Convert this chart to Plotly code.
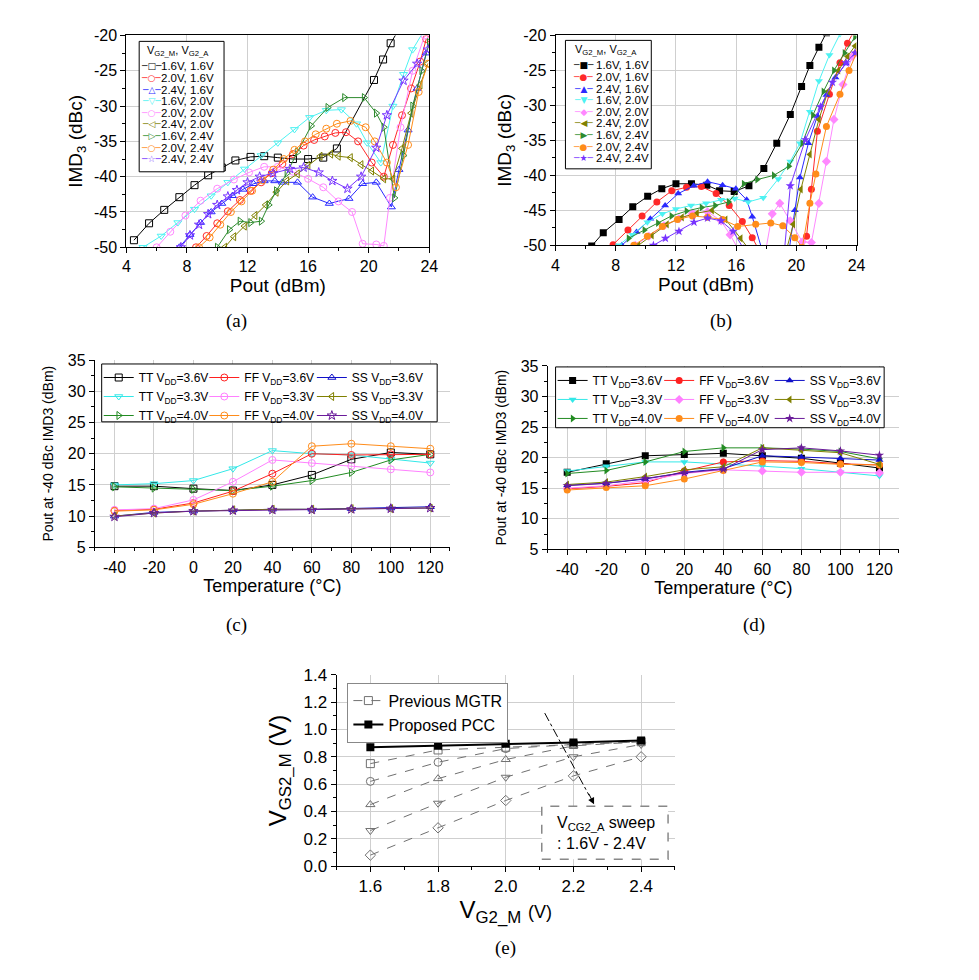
import plotly.graph_objects as go

W, H = 979, 980
FONT = "Liberation Sans"

# ---------------- panel (a)/(b): IMD3 vs Pout ----------------
bias_labels = ["1.6V, 1.6V", "2.0V, 1.6V", "2.4V, 1.6V", "1.6V, 2.0V", "2.0V, 2.0V",
               "2.4V, 2.0V", "1.6V, 2.4V", "2.0V, 2.4V", "2.4V, 2.4V"]
bias_colors = ["#000000", "#FF2A2A", "#2A2AFF", "#4DF2F2", "#FF88FF",
               "#808000", "#2E8B2E", "#FF8C1A", "#7733FF"]
a_symbols = ["square-open", "circle-open", "triangle-up-open", "triangle-down-open", "circle-open",
             "triangle-left-open", "triangle-right-open", "circle-open", "star-open"]
b_symbols = ["square", "circle", "triangle-up", "triangle-down", "diamond",
             "triangle-left", "triangle-right", "circle", "star"]
a_glyphs = ["□", "○", "△", "▽", "○", "◁", "▷", "○", "☆"]
b_glyphs = ["■", "●", "▲", "▼", "◆", "◀", "▶", "●", "★"]

# (a)
a_pout_1 = [4.5, 5.5, 6.5, 7.5, 8.5, 9.4, 10.3, 11.2, 12.2, 13.1, 14.0, 15.0, 16.0, 17.0, 17.9, 20.35, 20.95, 21.45, 21.95]
a_imd_1 = [-49.0, -46.6, -44.7, -42.9, -41.2, -39.8, -38.7, -37.7, -37.2, -37.1, -37.3, -37.5, -37.5, -37.3, -36.0, -26.3, -23.4, -21.1, -19.3]
a_pout_2 = [8.6, 9.3, 10.0, 10.7, 11.5, 12.2, 12.9, 13.6, 14.3, 15.0, 15.7, 16.4, 17.1, 17.8, 18.5, 19.3, 20.2, 21.0, 21.6, 22.2, 22.8, 23.4, 23.8]
a_imd_2 = [-50.0, -48.4, -46.6, -44.9, -43.3, -42.0, -40.8, -39.5, -38.2, -36.8, -35.6, -34.8, -34.3, -33.8, -33.7, -35.0, -38.0, -40.0, -35.5, -31.3, -27.5, -23.7, -20.5]
a_pout_3 = [7.5, 8.2, 8.9, 9.6, 10.3, 11.0, 11.7, 12.4, 13.1, 13.8, 14.3, 15.3, 16.3, 17.4, 18.7, 19.6, 20.5, 21.5, 22.0, 22.6, 23.2, 23.8]
a_imd_3 = [-50.0, -48.2, -46.5, -45.0, -43.8, -42.7, -41.8, -41.0, -40.6, -40.6, -40.8, -40.8, -42.9, -43.8, -43.1, -41.0, -40.8, -44.3, -39.0, -33.4, -27.5, -22.5]
a_pout_4 = [5.1, 6.3, 7.4, 8.5, 9.6, 10.7, 11.8, 12.9, 14.0, 15.1, 16.1, 17.2, 18.2, 19.2, 19.9, 20.8, 21.6, 22.3, 22.9, 23.6]
a_imd_4 = [-50.0, -48.4, -46.5, -44.6, -42.7, -40.8, -38.9, -37.0, -35.2, -33.3, -31.6, -30.6, -30.5, -32.5, -35.2, -38.0, -30.0, -25.5, -22.0, -19.5]
a_pout_5 = [6.0, 6.9, 7.9, 8.9, 10.0, 11.1, 12.1, 13.1, 14.0, 15.0, 16.0, 17.0, 18.0, 18.9, 19.6, 20.5, 21.0, 21.4, 22.1, 22.9, 23.7]
a_imd_5 = [-50.0, -47.8, -45.5, -43.4, -41.7, -40.4, -39.4, -38.6, -38.6, -39.3, -40.3, -41.5, -43.5, -45.0, -49.5, -49.6, -49.8, -43.0, -33.0, -25.0, -20.0]
a_pout_6 = [10.5, 11.1, 11.8, 12.5, 13.2, 13.9, 14.6, 15.3, 16.0, 16.8, 17.5, 18.0, 18.8, 19.5, 20.2, 21.0, 21.6, 22.2, 22.8, 23.4, 23.9]
a_imd_6 = [-50.0, -48.5, -47.0, -45.5, -44.0, -42.2, -40.6, -39.6, -38.4, -37.1, -36.8, -37.1, -37.3, -38.3, -39.2, -40.3, -40.3, -36.0, -31.0, -27.0, -24.0]
a_pout_7 = [10.0, 10.8, 11.5, 12.2, 12.9, 13.4, 13.9, 14.6, 15.3, 16.2, 17.3, 18.4, 19.7, 20.5, 21.0, 21.7, 22.3, 22.9, 23.5, 24.0]
a_imd_7 = [-50.0, -47.5, -46.3, -46.5, -46.3, -44.0, -42.0, -39.5, -36.5, -32.8, -30.2, -28.8, -28.8, -31.0, -33.0, -43.0, -37.0, -30.0, -25.0, -21.0]
a_pout_8 = [8.8, 9.5, 10.2, 10.9, 11.6, 12.3, 13.0, 13.7, 14.4, 15.1, 15.8, 16.5, 17.2, 17.9, 18.8, 19.8, 20.4, 21.2, 21.8, 22.6, 23.3, 23.9]
a_imd_8 = [-50.0, -48.6, -46.8, -45.0, -43.5, -42.0, -40.5, -39.0, -37.5, -36.2, -35.0, -34.0, -33.2, -32.5, -32.1, -33.0, -35.0, -38.0, -41.5, -35.5, -28.0, -24.0]
a_pout_9 = [7.6, 8.2, 8.8, 9.4, 10.0, 10.7, 11.3, 12.0, 12.8, 13.7, 14.8, 15.7, 16.7, 17.6, 18.6, 19.5, 20.5, 21.2, 22.3, 23.2, 23.9]
a_imd_9 = [-50.0, -48.3, -46.8, -45.3, -44.0, -42.8, -41.9, -40.8, -40.0, -39.5, -38.9, -38.7, -39.4, -40.6, -41.7, -40.0, -35.9, -31.3, -26.4, -24.0, -22.0]

# (b)
b_pout_1 = [6.4, 7.17, 8.22, 9.13, 10.12, 11.06, 12.0, 13.03, 14.05, 14.9, 15.87, 16.85, 17.84, 18.7, 19.6, 20.35, 20.9, 21.5, 22.0]
b_imd_1 = [-50.1, -48.2, -46.3, -44.5, -43.0, -41.9, -41.2, -41.2, -41.4, -42.2, -42.3, -41.5, -39.0, -35.4, -31.3, -27.3, -24.3, -21.7, -19.6]
b_pout_2 = [7.82, 8.81, 9.75, 10.73, 11.72, 12.7, 13.69, 14.67, 15.54, 16.41, 17.07, 17.6, 19.8, 20.68, 21.0, 21.4, 22.2, 22.9, 23.4, 23.8]
b_imd_2 = [-49.9, -47.8, -45.8, -43.8, -42.2, -41.7, -41.6, -42.6, -44.3, -46.6, -48.9, -51.0, -51.0, -48.7, -42.0, -33.7, -28.4, -23.9, -21.1, -19.5]
b_pout_3 = [8.4, 9.38, 10.3, 11.28, 12.15, 13.18, 14.1, 15.1, 15.98, 16.7, 17.07, 17.7, 19.5, 19.9, 20.24, 20.8, 21.4, 22.0, 22.6, 23.3, 23.9]
b_imd_3 = [-50.0, -48.1, -46.2, -44.3, -42.6, -41.5, -40.9, -41.4, -41.9, -43.5, -45.9, -50.5, -51.0, -45.0, -40.3, -35.4, -31.5, -28.5, -26.0, -24.0, -22.5]
b_pout_4 = [8.2, 9.1, 10.1, 11.1, 12.0, 13.0, 14.0, 15.0, 15.9, 16.8, 17.8, 18.8, 19.6, 20.24, 20.9, 21.5, 22.2, 22.9]
b_imd_4 = [-50.0, -48.5, -46.7, -45.5, -44.8, -44.3, -44.0, -43.5, -43.3, -43.8, -43.2, -40.5, -38.0, -35.4, -30.9, -26.5, -22.8, -19.8]
b_pout_5 = [9.3, 10.2, 11.2, 12.2, 13.1, 14.1, 15.0, 15.6, 16.2, 17.9, 18.4, 18.9, 19.6, 20.4, 21.0, 21.5, 22.0, 22.5, 23.1, 23.7]
b_imd_5 = [-50.0, -48.7, -47.2, -46.2, -45.4, -45.2, -46.5, -48.5, -50.8, -51.5, -45.5, -44.0, -46.5, -49.5, -49.6, -44.0, -38.0, -32.0, -27.0, -23.0]
b_pout_6 = [9.5, 10.4, 11.4, 12.4, 13.4, 14.4, 15.3, 16.3, 17.0, 19.3, 19.8, 20.3, 20.9, 21.5, 22.1, 22.8, 23.4, 23.9]
b_imd_6 = [-50.0, -48.6, -47.0, -46.0, -45.4, -45.0, -46.3, -49.0, -51.0, -51.0, -47.0, -42.0, -37.0, -32.0, -28.0, -25.0, -23.0, -21.5]
b_pout_7 = [8.85, 9.9, 10.8, 11.7, 12.7, 13.7, 14.6, 15.5, 16.5, 17.4, 18.5, 19.5, 20.4, 21.1, 21.8, 22.5, 23.2, 23.9]
b_imd_7 = [-49.0, -47.8, -46.8, -45.8, -45.1, -44.6, -44.3, -43.8, -41.2, -40.6, -40.0, -38.7, -35.4, -31.4, -28.0, -25.0, -22.5, -20.2]
b_pout_8 = [9.2, 10.1, 11.1, 12.1, 13.1, 14.1, 15.1, 16.1, 17.3, 18.3, 19.1, 19.9, 20.4, 20.9, 21.3, 22.0, 22.9, 23.5, 24.0]
b_imd_8 = [-50.0, -48.7, -47.3, -46.3, -45.8, -46.0, -46.3, -47.3, -47.0, -46.8, -47.2, -48.9, -50.3, -44.0, -39.8, -33.0, -28.4, -25.0, -22.5]
b_pout_9 = [10.5, 11.3, 12.2, 13.2, 14.1, 15.0, 15.8, 16.5, 19.2, 19.6, 20.6, 21.6, 22.4, 23.3, 23.9]
b_imd_9 = [-50.0, -49.0, -48.0, -46.7, -46.1, -46.5, -48.0, -50.5, -51.0, -41.5, -34.9, -30.2, -26.7, -23.9, -22.5]

imd_ticks = [-50, -45, -40, -35, -30, -25, -20]
imd_ticklabels = ["-50", "-45", "-40", "-35", "-30", "-25", "-20"]
pout_ticks = [4, 8, 12, 16, 20, 24]

# ---------------- panel (c)/(d): Pout at -40 dBc IMD3 vs temperature ----------------
temps = [-40, -20, 0, 20, 40, 60, 80, 100, 120]
temp_ticklabels = ["-40", "-20", "0", "20", "40", "60", "80", "100", "120"]
corner_labels = ["TT V<sub>DD</sub>=3.6V", "TT V<sub>DD</sub>=3.3V", "TT V<sub>DD</sub>=4.0V",
                 "FF V<sub>DD</sub>=3.6V", "FF V<sub>DD</sub>=3.3V", "FF V<sub>DD</sub>=4.0V",
                 "SS V<sub>DD</sub>=3.6V", "SS V<sub>DD</sub>=3.3V", "SS V<sub>DD</sub>=4.0V"]
corner_colors = ["#000000", "#33E8E8", "#228B22", "#FF2020", "#FF80FF", "#FF8C1A",
                 "#1010C8", "#808000", "#6A1B9A"]
c_symbols = ["square-open", "triangle-down-open", "triangle-right-open", "circle-open", "circle-open",
             "circle-open", "triangle-up-open", "triangle-left-open", "star-open"]
d_symbols = ["square", "triangle-down", "triangle-right", "circle", "diamond",
             "circle", "triangle-up", "triangle-left", "star"]

c_tt36 = [14.8, 14.8, 14.4, 14.1, 15.0, 16.6, 19.1, 20.2, 19.9]
c_tt33 = [15.0, 15.2, 15.7, 17.6, 20.5, 20.0, 19.8, 19.1, 18.5]
c_tt40 = [14.7, 14.5, 14.3, 14.1, 14.8, 15.7, 17.0, 19.0, 19.9]
c_ff36 = [10.9, 11.1, 12.1, 14.0, 16.8, 20.0, 19.8, 19.9, 19.9]
c_ff33 = [11.0, 11.2, 12.6, 15.5, 19.0, 18.5, 18.0, 17.5, 17.0]
c_ff40 = [10.8, 11.0, 11.9, 13.6, 15.5, 21.2, 21.6, 21.2, 20.8]
c_ss36 = [10.0, 10.6, 10.8, 11.0, 11.1, 11.1, 11.2, 11.3, 11.5]
c_ss33 = [10.0, 10.5, 10.8, 11.0, 11.1, 11.1, 11.2, 11.2, 11.3]
c_ss40 = [9.9, 10.5, 10.8, 10.9, 11.0, 11.0, 11.1, 11.2, 11.3]

d_tt36 = [17.6, 19.0, 20.3, 20.5, 20.7, 20.3, 19.9, 19.1, 18.3]
d_tt33 = [17.8, 18.6, 19.3, 19.3, 19.0, 18.6, 18.2, 17.6, 17.0]
d_tt40 = [17.4, 17.9, 19.3, 21.0, 21.6, 21.6, 21.4, 21.0, 19.8]
d_ff36 = [14.9, 15.3, 15.9, 17.8, 19.3, 19.5, 19.4, 19.0, 18.8]
d_ff33 = [15.0, 15.4, 16.2, 17.4, 18.0, 17.8, 17.6, 17.6, 17.5]
d_ff40 = [14.7, 15.1, 15.4, 16.5, 17.9, 19.3, 19.2, 18.9, 18.8]
d_ss36 = [15.5, 15.8, 16.5, 17.6, 18.2, 20.3, 20.1, 19.9, 19.6]
d_ss33 = [15.6, 16.0, 16.9, 18.0, 18.5, 21.6, 21.2, 20.8, 18.9]
d_ss40 = [15.4, 15.8, 16.6, 17.5, 18.1, 21.3, 21.6, 21.1, 20.4]

temp_axis_ticks = [5, 10, 15, 20, 25, 30, 35]

# ---------------- panel (e): VGS2_M vs VG2_M ----------------
vg2m = [1.6, 1.8, 2.0, 2.2, 2.4]
pcc_vgs = [0.87, 0.88, 0.895, 0.905, 0.92]
mgtr_a16 = [0.75, 0.85, 0.87, 0.89, 0.91]
mgtr_a18 = [0.62, 0.76, 0.86, 0.89, 0.91]
mgtr_a20 = [0.45, 0.64, 0.78, 0.88, 0.91]
mgtr_a22 = [0.26, 0.46, 0.65, 0.80, 0.89]
mgtr_a24 = [0.08, 0.28, 0.48, 0.66, 0.80]
mgtr_symbols = ["square-open", "circle-open", "triangle-up-open", "triangle-down-open", "diamond-open"]

# ---------------- helpers (layout only) ----------------
def fx(px):
    return px / W

def fy(py):
    return 1 - py / H

a_series = [(a_pout_1, a_imd_1), (a_pout_2, a_imd_2), (a_pout_3, a_imd_3), (a_pout_4, a_imd_4),
            (a_pout_5, a_imd_5), (a_pout_6, a_imd_6), (a_pout_7, a_imd_7), (a_pout_8, a_imd_8),
            (a_pout_9, a_imd_9)]
b_series = [(b_pout_1, b_imd_1), (b_pout_2, b_imd_2), (b_pout_3, b_imd_3), (b_pout_4, b_imd_4),
            (b_pout_5, b_imd_5), (b_pout_6, b_imd_6), (b_pout_7, b_imd_7), (b_pout_8, b_imd_8),
            (b_pout_9, b_imd_9)]
c_series = [c_tt36, c_tt33, c_tt40, c_ff36, c_ff33, c_ff40, c_ss36, c_ss33, c_ss40]
d_series = [d_tt36, d_tt33, d_tt40, d_ff36, d_ff33, d_ff40, d_ss36, d_ss33, d_ss40]
mgtr_series = [mgtr_a16, mgtr_a18, mgtr_a20, mgtr_a22, mgtr_a24]

fig = go.Figure()

for i, (xs, ys) in enumerate(a_series):
    col = bias_colors[i]
    fig.add_trace(go.Scatter(
        x=xs, y=ys, xaxis="x", yaxis="y", mode="lines+markers", name=bias_labels[i],
        line=dict(color=col, width=1), showlegend=False,
        marker=dict(symbol=a_symbols[i], size=7, color=col, line=dict(color=col, width=1))))

for i, (xs, ys) in enumerate(b_series):
    col = bias_colors[i]
    fig.add_trace(go.Scatter(
        x=xs, y=ys, xaxis="x2", yaxis="y2", mode="lines+markers", name=bias_labels[i],
        line=dict(color=col, width=1), showlegend=False,
        marker=dict(symbol=b_symbols[i], size=7, color=col, line=dict(color=col, width=0))))

c_legends = ["legend3", "legend3", "legend3", "legend4", "legend4", "legend4", "legend5", "legend5", "legend5"]
d_legends = ["legend6", "legend6", "legend6", "legend7", "legend7", "legend7", "legend8", "legend8", "legend8"]

for i, ys in enumerate(c_series):
    col = corner_colors[i]
    fig.add_trace(go.Scatter(
        x=temps, y=ys, xaxis="x3", yaxis="y3", mode="lines+markers", name=corner_labels[i],
        line=dict(color=col, width=1),
        marker=dict(symbol=c_symbols[i], size=7, color=col, line=dict(color=col, width=1)),
        legend=c_legends[i]))

for i, ys in enumerate(d_series):
    col = corner_colors[i]
    fig.add_trace(go.Scatter(
        x=temps, y=ys, xaxis="x4", yaxis="y4", mode="lines+markers", name=corner_labels[i],
        line=dict(color=col, width=1),
        marker=dict(symbol=d_symbols[i], size=7, color=col, line=dict(color=col, width=0)),
        legend=d_legends[i]))

for i, ys in enumerate(mgtr_series):
    fig.add_trace(go.Scatter(
        x=vg2m, y=ys, xaxis="x5", yaxis="y5", mode="lines+markers", name="Previous MGTR",
        line=dict(color="#707070", width=1, dash="dash"),
        marker=dict(symbol=mgtr_symbols[i], size=8, color="#707070", line=dict(color="#707070", width=1)),
        showlegend=(i == 0), legendgroup="mgtr", legend="legend9"))

fig.add_trace(go.Scatter(
    x=vg2m, y=pcc_vgs, xaxis="x5", yaxis="y5", mode="lines+markers", name="Proposed PCC",
    line=dict(color="black", width=2),
    marker=dict(symbol="square", size=8, color="black"),
    legend="legend9"))


def axis(domain, anchor, rng, tickfont=16, mirror=False, **kw):
    d = dict(domain=domain, anchor=anchor, range=rng, showline=True, linecolor="black", linewidth=1,
             mirror=mirror, ticks="outside", ticklen=5, tickcolor="black", showgrid=True,
             gridcolor="#cfcfcf", gridwidth=1, zeroline=False,
             tickfont=dict(size=tickfont, color="black", family=FONT))
    d.update(kw)
    return d


minor_a_x = dict(ticks="outside", ticklen=3, tickcolor="black", showgrid=False, tickmode="linear", tick0=4, dtick=2)
minor_a_y = dict(ticks="outside", ticklen=3, tickcolor="black", showgrid=False, tickmode="linear", tick0=-50, dtick=2.5)
minor_c_x = dict(ticks="outside", ticklen=3, tickcolor="black", showgrid=False, tickmode="linear", tick0=-50, dtick=10)
minor_c_y = dict(ticks="outside", ticklen=3, tickcolor="black", showgrid=False, tickmode="linear", tick0=5, dtick=2.5)
minor_e_x = dict(ticks="outside", ticklen=3, tickcolor="black", showgrid=False, tickmode="linear", tick0=1.5, dtick=0.1)
minor_e_y = dict(ticks="outside", ticklen=3, tickcolor="black", showgrid=False, tickmode="linear", tick0=0, dtick=0.1)

title_font = dict(family=FONT, size=19, color="black")

layout = dict(
    width=W, height=H, margin=dict(l=0, r=0, t=0, b=0), autosize=False,
    paper_bgcolor="white", plot_bgcolor="white", font=dict(family=FONT, color="black"),
    showlegend=True,
    # (a)
    xaxis=axis([fx(124), fx(431)], "y", [4, 24], mirror=True, tickmode="array", tickvals=pout_ticks,
               minor=minor_a_x, title=dict(text="Pout (dBm)", font=title_font, standoff=2)),
    yaxis=axis([fy(243), fy(27)], "x", [-50, -20], mirror=True, tickmode="array", tickvals=imd_ticks,
               ticktext=imd_ticklabels, minor=minor_a_y,
               title=dict(text="IMD<sub>3</sub> (dBc)", font=title_font, standoff=6)),
    # (b)
    xaxis2=axis([fx(559), fx(864)], "y2", [4, 24], mirror=True, tickmode="array", tickvals=pout_ticks,
                minor=minor_a_x, title=dict(text="Pout (dBm)", font=title_font, standoff=2)),
    yaxis2=axis([fy(241), fy(27)], "x2", [-50, -20], mirror=True, tickmode="array", tickvals=imd_ticks,
                ticktext=imd_ticklabels, minor=minor_a_y,
                title=dict(text="IMD<sub>3</sub> (dBc)", font=title_font, standoff=6)),
    # (c)
    xaxis3=axis([fx(92), fx(452)], "y3", [-50, 130], tickmode="array", tickvals=temps, ticktext=temp_ticklabels,
                minor=minor_c_x, title=dict(text="Temperature (°C)", font=dict(family=FONT, size=18, color="black"), standoff=2)),
    yaxis3=axis([fy(549), fy(358)], "x3", [5, 35], tickmode="array", tickvals=temp_axis_ticks, minor=minor_c_y,
                title=dict(text="Pout at -40 dBc IMD3 (dBm)", font=dict(family=FONT, size=14, color="black"), standoff=10)),
    # (d)
    xaxis4=axis([fx(551), fx(907)], "y4", [-50, 130], tickmode="array", tickvals=temps, ticktext=temp_ticklabels,
                minor=minor_c_x, title=dict(text="Temperature (°C)", font=dict(family=FONT, size=18, color="black"), standoff=2)),
    yaxis4=axis([fy(551), fy(364)], "x4", [5, 35], tickmode="array", tickvals=temp_axis_ticks, minor=minor_c_y,
                title=dict(text="Pout at -40 dBc IMD3 (dBm)", font=dict(family=FONT, size=14, color="black"), standoff=10)),
    # (e)
    xaxis5=axis([fx(337), fx(680)], "y5", [1.5, 2.5], tickfont=17, tickmode="array", tickvals=vg2m,
                tickformat=".1f", minor=minor_e_x,
                title=dict(text="V<sub>G2_M</sub> <span style='font-size:18px'>(V)</span>",
                           font=dict(family=FONT, size=24, color="black"), standoff=2)),
    yaxis5=axis([fy(874), fy(679)], "x5", [0, 1.4], tickfont=17, dtick=0.2, tick0=0, tickformat=".1f",
                minor=minor_e_y,
                title=dict(text="V<sub>GS2_M</sub> (V)", font=dict(family=FONT, size=24, color="black"), standoff=10)),
)

legend_cd = dict(bgcolor="rgba(0,0,0,0)", borderwidth=0, xanchor="left", yanchor="top",
                 font=dict(family=FONT, size=12, color="black"), tracegroupgap=0)
layout["legend3"] = dict(legend_cd, x=fx(96), y=fy(361))
layout["legend4"] = dict(legend_cd, x=fx(203), y=fy(361))
layout["legend5"] = dict(legend_cd, x=fx(312), y=fy(361))
layout["legend6"] = dict(legend_cd, x=fx(556), y=fy(364))
layout["legend7"] = dict(legend_cd, x=fx(664), y=fy(364))
layout["legend8"] = dict(legend_cd, x=fx(776), y=fy(364))
layout["legend9"] = dict(bgcolor="white", bordercolor="#888888", borderwidth=1, xanchor="left", yanchor="top",
                         x=fx(348), y=fy(687), font=dict(family=FONT, size=16, color="black"), tracegroupgap=0)

shapes = [
    # compact key boxes for (a) and (b)
    dict(type="rect", xref="paper", yref="paper", x0=fx(137), x1=fx(223), y0=fy(166), y1=fy(33),
         line=dict(color="black", width=1), fillcolor="white", layer="above"),
    dict(type="rect", xref="paper", yref="paper", x0=fx(569), x1=fx(656), y0=fy(163), y1=fy(32),
         line=dict(color="black", width=1), fillcolor="white", layer="above"),
    # key boxes for (c) and (d)
    dict(type="rect", xref="paper", yref="paper", x0=fx(99), x1=fx(439), y0=fy(421), y1=fy(362),
         line=dict(color="black", width=1), fillcolor="white", layer="above"),
    dict(type="rect", xref="paper", yref="paper", x0=fx(559), x1=fx(892), y0=fy(427), y1=fy(365),
         line=dict(color="black", width=1), fillcolor="white", layer="above"),
    # sweep note in (e)
    dict(type="rect", xref="paper", yref="paper", x0=fx(545), x1=fx(673), y0=fy(867), y1=fy(813),
         line=dict(color="#888888", width=1.5, dash="dash"), fillcolor="white", layer="above"),
    dict(type="line", xref="paper", yref="paper", x0=fx(548), y0=fy(718), x1=fx(593), y1=fy(802),
         line=dict(color="black", width=1, dash="dashdot"), layer="above"),
]

caption_font = dict(family="Liberation Serif", size=19, color="black")
annotations = []
for txt, cx, cy in [("(a)", 236, 318), ("(b)", 727, 318), ("(c)", 236, 628), ("(d)", 760, 628), ("(e)", 508, 958)]:
    annotations.append(dict(text=txt, x=fx(cx), y=fy(cy), xref="paper", yref="paper", showarrow=False,
                            xanchor="center", yanchor="middle", font=caption_font))

annotations.append(dict(text="V<sub>CG2_A</sub> sweep<br>: 1.6V - 2.4V", x=fx(610), y=fy(840), xref="paper",
                        yref="paper", showarrow=False, align="left", xanchor="center", yanchor="middle",
                        font=dict(family=FONT, size=16, color="black")))
annotations.append(dict(text="", x=fx(598), y=fy(811), xref="paper", yref="paper", showarrow=True, arrowhead=2,
                        arrowsize=1.3, arrowwidth=1, arrowcolor="black", ax=-6, ay=-12, standoff=0))

# compact keys (a) and (b): title + one line per bias pair (symbol sample + label)
key_title = "V<sub>G2_M</sub>, V<sub>G2_A</sub>"
for left, top, sym_cx, text_x, glyphs in [(143, 33, 149, 157, a_glyphs), (577, 32, 587, 598, b_glyphs)]:
    annotations.append(dict(text=key_title, x=fx(left), y=fy(top + 10), xref="paper", yref="paper",
                            showarrow=False, xanchor="left", yanchor="middle",
                            font=dict(family=FONT, size=11, color="black")))
    for k in range(len(bias_labels)):
        ypos = fy(top + 25.5 + 11.85 * k)
        annotations.append(dict(
            text="<span style='color:%s'>─%s─</span>" % (bias_colors[k], glyphs[k]),
            x=fx(sym_cx), y=ypos, xref="paper", yref="paper", showarrow=False,
            xanchor="center", yanchor="middle", font=dict(family="DejaVu Sans", size=9, color=bias_colors[k])))
        annotations.append(dict(
            text=bias_labels[k], x=fx(text_x), y=ypos, xref="paper", yref="paper", showarrow=False,
            xanchor="left", yanchor="middle", font=dict(family=FONT, size=11.5, color="black")))

layout["shapes"] = shapes
layout["annotations"] = annotations
fig.update_layout(**layout)

fig.write_html("out.html")
